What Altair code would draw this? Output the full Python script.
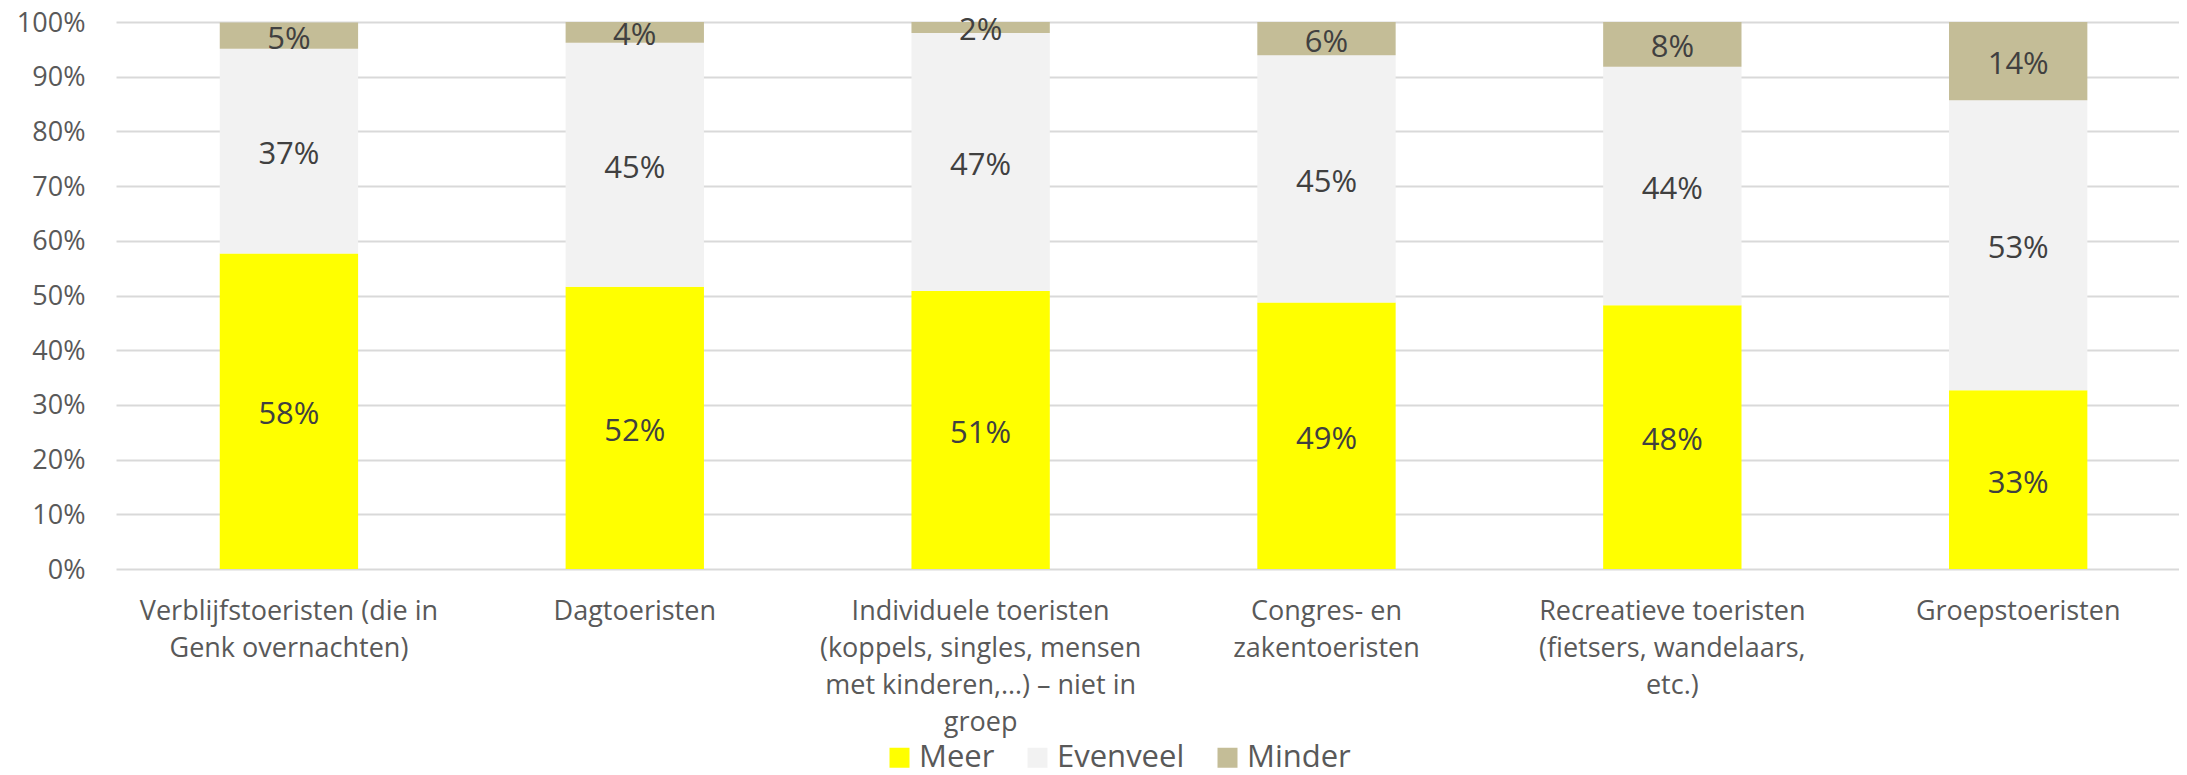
import altair as alt
import pandas as pd

categories = [
    "Verblijfstoeristen (die in|Genk overnachten)",
    "Dagtoeristen",
    "Individuele toeristen|(koppels, singles, mensen|met kinderen,…) – niet in|groep",
    "Congres- en|zakentoeristen",
    "Recreatieve toeristen|(fietsers, wandelaars,|etc.)",
    "Groepstoeristen",
]
series = ["Meer", "Evenveel", "Minder"]
colors = ["#FFFF00", "#F2F2F2", "#C4BD97"]
meer = [57.7, 51.6, 50.8, 48.7, 48.2, 32.7]
evenveel = [37.4, 44.6, 47.2, 45.2, 43.6, 53.0]
minder = [4.8, 3.8, 2.0, 6.1, 8.2, 14.3]
y_ticks = [0, 10, 20, 30, 40, 50, 60, 70, 80, 90, 100]

rows = []
for s_i, (s, vals) in enumerate(zip(series, [meer, evenveel, minder])):
    for c, v in zip(categories, vals):
        rows.append({"cat": c, "series": s, "ord": s_i, "value": v})
df = pd.DataFrame(rows)

W = 2063
H = 547

base = alt.Chart(df).transform_stack(
    stack="value",
    groupby=["cat"],
    as_=["v0", "v1"],
    sort=[alt.SortField("ord", order="ascending")],
).transform_calculate(
    mid="(datum.v0 + datum.v1) / 2",
    lbl="format(datum.value, '.0f') + '%'",
)

xenc = alt.X(
    "cat:N",
    sort=categories,
    scale=alt.Scale(paddingInner=0.6, paddingOuter=0.2825, align=0.531),
    axis=alt.Axis(
        title=None,
        labelAngle=0,
        labelFontSize=27,
        labelColor="#595959",
        labelLineHeight=37,
        labelPadding=29,
        labelLimit=600,
        ticks=False,
        domain=False,
        labelExpr="split(datum.label, '|')",
    ),
)

bars = base.mark_bar().encode(
    x=xenc,
    y=alt.Y(
        "v0:Q",
        scale=alt.Scale(domain=[0, 100], nice=False),
        axis=alt.Axis(
            title=None,
            values=y_ticks,
            labelExpr="datum.value + '%'",
            labelFontSize=27,
            labelColor="#595959",
            labelPadding=31,
            labelOffset=1,
            ticks=False,
            domain=False,
            grid=True,
            gridColor="#D9D9D9",
            gridWidth=2,
        ),
    ),
    y2="v1:Q",
    color=alt.Color(
        "series:N",
        scale=alt.Scale(domain=series, range=colors),
        legend=alt.Legend(
            title=None,
            orient="none",
            legendX=768,
            legendY=720,
            direction="horizontal",
            symbolType="square",
            symbolSize=400,
            symbolStrokeWidth=0,
            symbolOpacity=1,
            labelFontSize=31,
            labelColor="#595959",
            labelOffset=4,
            columnPadding=27,
            padding=0,
        ),
    ),
)

labels = base.mark_text(fontSize=31, color="#404040", baseline="middle", dy=4).encode(
    x=alt.X("cat:N", sort=categories),
    y=alt.Y("mid:Q"),
    text="lbl:N",
)

chart = (
    alt.layer(bars, labels)
    .properties(
        width=W,
        height=H,
        autosize=alt.AutoSizeParams(type="none"),
        padding={"left": 108, "top": 14, "right": 0, "bottom": 204},
    )
    .configure(font="Open Sans")
    .configure_view(stroke=None)
)

chart.save("out.html", embed_options={"renderer": "svg", "actions": False})
